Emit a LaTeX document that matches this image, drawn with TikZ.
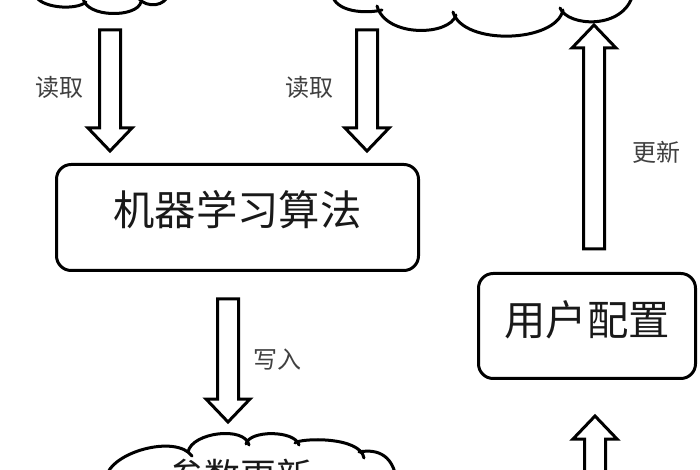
\documentclass[tikz,border=0pt]{standalone}
\usepackage{fontspec}
\newfontfamily\cjk{Noto Sans CJK SC}
\usetikzlibrary{calc}
\begin{document}
\begin{tikzpicture}[x=0.75pt,y=-0.75pt,
  ln/.style={line width=2.25pt, line cap=round, line join=round},
  boxnode/.style={draw, line width=2.25pt, rounded corners=11pt, font=\cjk\fontsize{31}{31}\selectfont, text=black!90, inner sep=0pt},
  lbl/.style={font=\cjk\fontsize{18}{18}\selectfont, text=black!75, inner sep=0pt},
  blockarrow/.style={draw, line width=2.25pt, fill=white, line join=miter,
    to path={($(\tikztostart)+(-10.5,0)$) -- ($(\tikztotarget)+(-10.5,#1)$) -- ($(\tikztotarget)+(-22,#1)$) -- (\tikztotarget) -- ($(\tikztotarget)+(22,#1)$) -- ($(\tikztotarget)+(10.5,#1)$) -- ($(\tikztostart)+(10.5,0)$) -- cycle}}
]
\useasboundingbox (0,0) rectangle (700,470);
\clip (0,0) rectangle (700,470);

% top-left cloud (bottom edge only)
\draw[ln] (35,-6) .. controls (38,8) and (76,11) .. (86,2);
\draw[ln] (83,-2) .. controls (86,18) and (137,18) .. (141,2);
\draw[ln] (138,-2) .. controls (148,9) and (165,6) .. (169,-6);

% top-right cloud (bottom edge only)
\draw[ln] (332,-6) .. controls (335,12) and (365,14) .. (382,10);
\draw[ln] (377,6) .. controls (386,38) and (450,36) .. (456,15);
\draw[ln] (453,12) .. controls (463,46) and (556,43) .. (563,10);
\draw[ln] (560,8) .. controls (568,27) and (624,30) .. (633,-6);

% bottom cloud (top edge only)
\draw[ln] (106,478) .. controls (110,452) and (176,434) .. (192,456);
\draw[ln] (188,452) .. controls (192,432) and (245,426) .. (249,445);
\draw[ln] (246,444) .. controls (249,430) and (295,430) .. (299,445);
\draw[ln] (295,443) .. controls (300,438) and (360,436) .. (364,458);
\draw[ln] (359,452) .. controls (380,448) and (393,458) .. (396,478);
\node[font=\cjk\fontsize{27}{27}\selectfont, inner sep=0pt, text=black!90] (pu) at (240,476) {参数更新};

% boxes
\node[boxnode, minimum width=271.5pt, minimum height=79.5pt, text height=27.3pt, text depth=15.5pt] (ml) at (237.5,217.5) {机器学习算法};
\node[boxnode, minimum width=162.75pt, minimum height=78.75pt, text height=27.3pt, text depth=13.3pt] (uc) at (587,326) {用户配置};

% arrow end points
\coordinate (a1s) at (110,30);  \coordinate (a1e) at (110,151);
\coordinate (a2s) at (367,30);  \coordinate (a2e) at (367,151);
\coordinate (a3s) at (594,249); \coordinate (a3e) at (594,25);
\coordinate (a4s) at (228,299); \coordinate (a4e) at (228,422);
\coordinate (a5s) at (595,480); \coordinate (a5e) at (595,416);

\draw[blockarrow=-23] (a1s) to (a1e);
\draw[blockarrow=-23] (a2s) to (a2e);
\draw[blockarrow=23] (a3s) to (a3e);
\draw[blockarrow=-23] (a4s) to (a4e);
\draw[blockarrow=23] (a5s) to (a5e);

% labels
\node[lbl] (l1) at (59,87) {读取};
\node[lbl] (l2) at (309,87) {读取};
\node[lbl] (l3) at (656,152) {更新};
\node[lbl] (l4) at (277,360) {写入};
\end{tikzpicture}
\end{document}
